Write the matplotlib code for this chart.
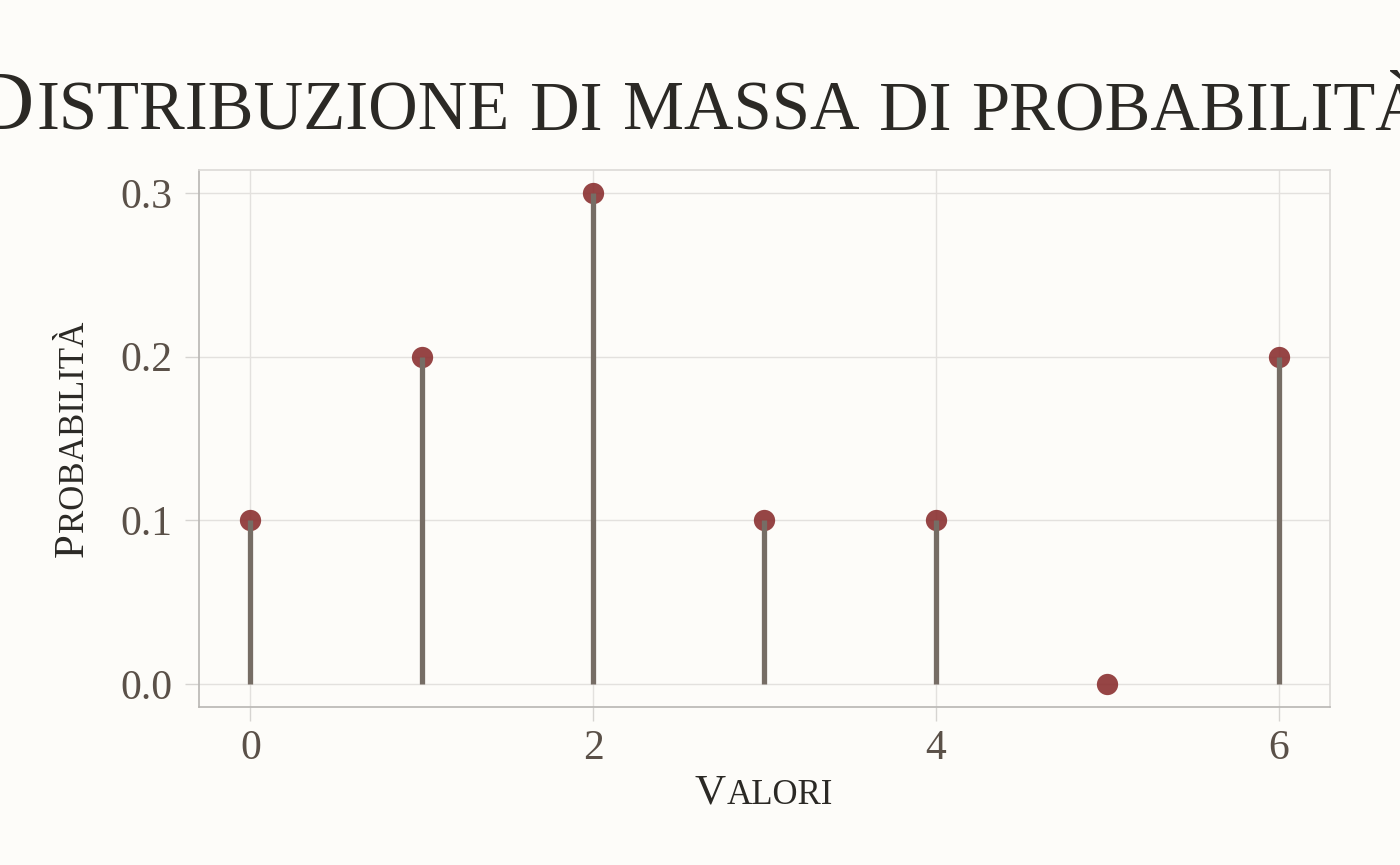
import matplotlib
matplotlib.use('Agg')
import matplotlib.pyplot as plt
from matplotlib.transforms import offset_copy

# dati
x_vals = [0, 1, 2, 3, 4, 5, 6]
probs = [0.1, 0.2, 0.3, 0.1, 0.1, 0.0, 0.2]
x_ticks = [0, 2, 4, 6]
y_ticks = [0.0, 0.1, 0.2, 0.3]
y_tick_labels = ['0.0', '0.1', '0.2', '0.3']
title_text = 'Distribuzione di massa di probabilità'
xlabel_text = 'Valori'
ylabel_text = 'Probabilità'

SERIF = ['Liberation Serif', 'DejaVu Serif']
BG = '#fdfcf9'
DARK = '#2b2925'
TICK_TXT = '#5a5048'

fig = plt.figure(figsize=(14, 8.65), dpi=100, facecolor=BG)
ax = fig.add_axes([0.1421, 0.1827, 0.8079, 0.6208])
ax.set_facecolor(BG)

# stem + punti
ax.scatter(x_vals, probs, s=235, color='#8b3131', alpha=0.9, linewidths=0, zorder=2)
ax.vlines(x_vals, 0, probs, color='#766d65', linewidth=3.8, zorder=3)

ax.set_xlim(-0.3, 6.3)
ax.set_ylim(-0.014, 0.314)
ax.set_xticks(x_ticks)
ax.set_yticks(y_ticks)
ax.set_yticklabels(y_tick_labels)
ax.grid(True, color='#e3e1de', linewidth=1.0, zorder=0)
ax.set_axisbelow(True)

for side in ['left', 'bottom']:
    ax.spines[side].set_color('#b8b6b3')
    ax.spines[side].set_linewidth(1.2)
for side in ['top', 'right']:
    ax.spines[side].set_color('#dcdad7')
    ax.spines[side].set_linewidth(1.2)

ax.tick_params(axis='both', length=10, width=1, color='#d6d4d1', labelcolor=TICK_TXT,
               labelsize=30)
ax.tick_params(axis='x', pad=6)
ax.tick_params(axis='y', pad=9)
for lab in ax.get_xticklabels() + ax.get_yticklabels():
    lab.set_family(SERIF)

renderer = fig.canvas.get_renderer()


def text_width(s, size):
    t = fig.text(0, 0, s, fontsize=size, family=SERIF)
    w = t.get_window_extent(renderer).width
    t.remove()
    return w


def small_caps(x, y, s, size, ratio=0.81, rotation=0, color=DARK):
    # maiuscoletto finto: maiuscole grandi, minuscole -> maiuscole piccole
    pieces = []
    for wi, word in enumerate(s.split(' ')):
        if wi > 0:
            pieces.append((None, size * ratio * 0.25 * 100 / 72))
        runs = []
        for ch in word:
            big = ch.isupper()
            if runs and runs[-1][1] == big:
                runs[-1][0] += ch.upper()
            else:
                runs.append([ch.upper(), big])
        for txt, big in runs:
            fs = size if big else size * ratio
            pieces.append(((txt, fs), text_width(txt, fs) + fs * 0.04 * 100 / 72))
    total = sum(w for _, w in pieces)
    pos = -total / 2
    for item, w in pieces:
        if item is not None:
            txt, fs = item
            dx, dy = (pos, 0) if rotation == 0 else (0, pos)
            tr = offset_copy(fig.transFigure, fig=fig, x=dx, y=dy, units='dots')
            fig.text(x, y, txt, transform=tr, fontsize=fs, family=SERIF, color=color,
                     rotation=rotation, rotation_mode='anchor', ha='left', va='baseline')
        pos += w


small_caps(0.5, 1 - 130 / 865, title_text, 61)
small_caps(0.546, 1 - 804 / 865, xlabel_text, 31)
small_caps(83 / 1400, 1 - 438 / 865, ylabel_text, 31, rotation=90)

fig.savefig('out.png', dpi=100, facecolor=BG)
